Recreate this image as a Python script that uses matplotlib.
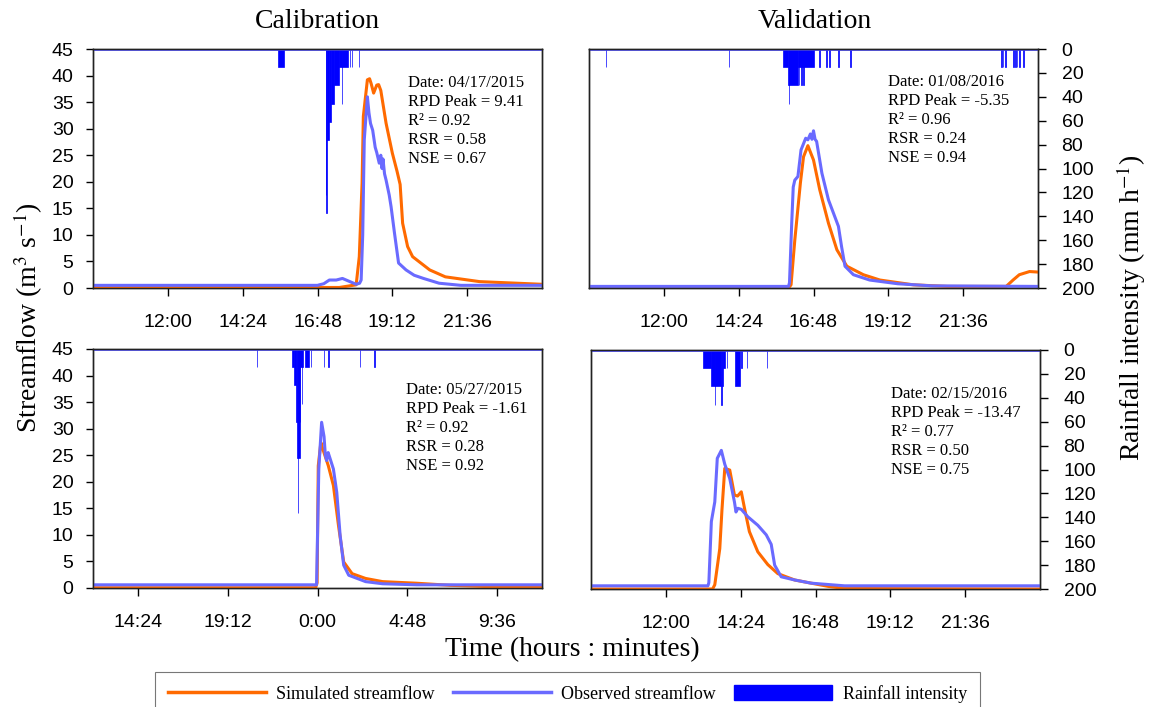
import matplotlib
matplotlib.use("Agg")
import matplotlib.pyplot as plt
from matplotlib.lines import Line2D
from matplotlib.patches import Patch

plt.rcParams['mathtext.fontset'] = 'stix'

SERIF = 'Liberation Serif'
SANS = 'Liberation Sans'

# ---------------- data (time in decimal hours) ----------------
# Calibration 04/17/2015
tl_obs_t = [9.6, 16.8, 16.86, 17.0, 17.18, 17.4, 17.6, 17.8, 18.04, 18.15, 18.2, 18.25, 18.3, 18.4, 18.45,
            18.5, 18.57, 18.65, 18.7, 18.78, 18.83, 18.87, 18.9, 18.95, 19.0, 19.1, 19.16, 19.27, 19.4,
            19.64, 19.9, 20.2, 20.7, 21.4, 24.0]
tl_obs_q = [0.5, 0.5, 0.6, 0.8, 1.5, 1.5, 1.8, 1.3, 0.7, 0.9, 1.5, 10.0, 27.9, 36.0, 33.0,
            31.0, 29.7, 26.5, 25.5, 23.5, 25.0, 22.5, 24.3, 21.5, 20.3, 17.5, 15.3, 10.3, 4.7,
            3.4, 2.4, 1.8, 0.9, 0.5, 0.5]
tl_sim_t = [9.6, 17.5, 18.04, 18.14, 18.23, 18.27, 18.4, 18.47, 18.52, 18.6, 18.7, 18.76, 18.83,
            19.0, 19.2, 19.35, 19.45, 19.53, 19.69, 19.85, 20.4, 20.9, 22.0, 24.0]
tl_sim_q = [0.05, 0.1, 0.6, 5.9, 19.8, 32.3, 39.2, 39.4, 38.5, 36.7, 38.2, 38.3, 37.2,
            31.0, 25.4, 22.0, 19.5, 12.2, 7.8, 5.9, 3.4, 2.1, 1.2, 0.7]
tl_rain_start = [15.52, 17.06, 17.08, 17.11, 17.16, 17.24, 17.34, 17.48, 17.58, 17.60, 17.84, 17.90, 18.12]
tl_rain_end = [15.74, 17.08, 17.11, 17.16, 17.24, 17.34, 17.48, 17.58, 17.60, 17.77, 17.857, 17.917, 18.137]
tl_rain_val = [15.24, 121.92, 137.16, 76.2, 60.96, 45.72, 30.48, 15.24, 45.72, 15.24, 15.24, 15.24, 15.24]

# Validation 01/08/2016
tr_obs_t = [9.6, 16.0, 16.03, 16.1, 16.15, 16.2, 16.3, 16.4, 16.55, 16.62, 16.7, 16.75, 16.8, 16.85,
            16.9, 17.07, 17.28, 17.44, 17.6, 17.7, 17.81, 18.08, 18.6, 19.5, 20.6, 24.0]
tr_obs_q = [0.3, 0.3, 1.0, 12.0, 19.0, 20.3, 21.0, 26.0, 28.2, 27.9, 29.0, 28.0, 29.6, 28.0,
            27.6, 21.6, 16.6, 14.1, 11.6, 7.8, 4.1, 2.5, 1.5, 0.8, 0.4, 0.3]
tr_sim_t = [9.6, 16.0, 16.08, 16.2, 16.38, 16.48, 16.62, 16.8, 17.0, 17.28, 17.55, 17.87, 18.4, 18.93,
            20.0, 21.1, 22.98, 23.2, 23.4, 23.73, 24.0]
tr_sim_q = [0.0, 0.0, 0.6, 9.0, 19.8, 24.7, 26.8, 24.1, 18.5, 12.2, 7.2, 4.1, 2.5, 1.5,
            0.6, 0.3, 0.3, 1.5, 2.5, 3.1, 3.0]
tr_rain_start = [10.13, 14.08, 15.82, 15.97, 16.00, 16.02, 16.30, 16.33, 16.40, 16.47, 16.98, 17.2, 17.3,
                 17.6, 17.97, 22.80, 22.87, 22.94, 23.19, 23.26, 23.32, 23.40, 23.53]
tr_rain_end = [10.147, 14.097, 15.97, 16.00, 16.02, 16.30, 16.80, 16.347, 16.417, 16.487, 16.997, 17.217,
               17.317, 17.617, 17.987, 22.83, 22.89, 22.96, 23.22, 23.28, 23.34, 23.417, 23.547]
tr_rain_val = [15.24, 15.24, 15.24, 30.48, 45.72, 30.48, 15.24, 30.48, 30.48, 30.48, 15.24, 15.24, 15.24,
               15.24, 15.24, 15.24, 15.24, 15.24, 15.24, 15.24, 15.24, 15.24, 15.24]

# Calibration 05/27/2015 (24 = 0:00 next day)
bl_obs_t = [12.0, 23.95, 24.07, 24.22, 24.35, 24.42, 24.49, 24.57, 24.67, 24.85, 25.03, 25.21, 25.4,
            25.67, 26.57, 27.48, 29.3, 36.0]
bl_obs_q = [0.6, 0.6, 22.4, 31.2, 28.5, 25.0, 24.0, 25.5, 24.4, 22.4, 18.0, 9.9, 4.3,
            2.4, 1.2, 0.8, 0.6, 0.6]
bl_sim_t = [12.0, 23.9, 23.98, 24.04, 24.18, 24.28, 24.58, 24.85, 25.12, 25.4, 25.85, 26.57, 27.48,
            29.3, 31.1, 32.9, 36.0]
bl_sim_q = [0.05, 0.05, 1.0, 23.0, 27.4, 26.2, 23.0, 19.3, 11.8, 4.9, 2.7, 1.8, 1.2,
            0.9, 0.5, 0.3, 0.3]
bl_rain_start = [20.74, 22.62, 22.77, 22.86, 22.91, 22.945, 22.96, 23.04, 23.09, 23.16, 23.18, 23.31,
                 23.64, 24.34, 24.58, 26.27, 27.04]
bl_rain_end = [20.757, 22.77, 22.86, 22.91, 22.945, 22.96, 23.04, 23.09, 23.16, 23.18, 23.22, 23.53,
               23.657, 24.357, 24.597, 26.287, 27.057]
bl_rain_val = [15.24, 15.24, 30.48, 60.96, 91.44, 137.16, 91.44, 60.96, 15.24, 45.72, 15.24, 15.24,
               15.24, 15.24, 15.24, 15.24, 15.24]

# Validation 02/15/2016
br_obs_t = [9.6, 13.35, 13.38, 13.46, 13.57, 13.65, 13.78, 13.89, 14.05, 14.2, 14.25, 14.31, 14.42,
            14.63, 14.95, 15.22, 15.38, 15.49, 15.7, 16.13, 16.66, 17.73, 24.0]
br_obs_q = [0.6, 0.6, 1.2, 12.7, 16.4, 24.6, 26.1, 23.5, 20.8, 16.4, 14.5, 15.2, 15.0,
            13.6, 12.0, 10.2, 8.4, 4.5, 2.3, 1.7, 1.1, 0.6, 0.6]
br_sim_t = [9.6, 13.5, 13.57, 13.73, 13.8, 13.89, 14.05, 14.2, 14.3, 14.42, 14.52, 14.68, 14.95,
            15.27, 15.59, 16.13, 16.66, 17.2, 17.73, 24.0]
br_sim_q = [0.0, 0.0, 0.8, 7.6, 14.9, 22.7, 22.4, 17.7, 17.5, 18.3, 15.3, 10.8, 7.0,
            4.6, 2.9, 1.7, 1.1, 0.5, 0.1, 0.0]
br_rain_start = [13.20, 13.44, 13.57, 13.59, 13.78, 13.80, 13.84, 13.96, 14.23, 14.42, 14.60, 15.23]
br_rain_end = [13.44, 13.57, 13.59, 13.78, 13.80, 13.84, 13.89, 13.977, 14.37, 14.437, 14.617, 15.247]
br_rain_val = [15.24, 30.48, 45.72, 30.48, 45.72, 30.48, 15.24, 15.24, 30.48, 15.24, 15.24, 15.24]

top_ticks = [12.0, 14.4, 16.8, 19.2, 21.6]
top_labels = ['12:00', '14:24', '16:48', '19:12', '21:36']
bl_ticks = [14.4, 19.2, 24.0, 28.8, 33.6]
bl_labels = ['14:24', '19:12', '0:00', '4:48', '9:36']

stats_tl = ['Date: 04/17/2015', 'RPD Peak = 9.41', 'R² = 0.92', 'RSR = 0.58', 'NSE = 0.67']
stats_tr = ['Date: 01/08/2016', 'RPD Peak = -5.35', 'R² = 0.96', 'RSR = 0.24', 'NSE = 0.94']
stats_bl = ['Date: 05/27/2015', 'RPD Peak = -1.61', 'R² = 0.92', 'RSR = 0.28', 'NSE = 0.92']
stats_br = ['Date: 02/15/2016', 'RPD Peak = -13.47', 'R² = 0.77', 'RSR = 0.50', 'NSE = 0.75']

# ---------------- styling ----------------
C_SIM = '#ff6a00'
C_OBS = '#6a6aff'
C_RAIN = '#0000ff'

fig = plt.figure(figsize=(11.54, 7.07), dpi=100)

W = 449 / 1154
H = 239 / 707
panels = [
    dict(pos=[93 / 1154, 1 - 288 / 707, W, H], obs=(tl_obs_t, tl_obs_q), sim=(tl_sim_t, tl_sim_q),
         rain=(tl_rain_start, tl_rain_end, tl_rain_val), xlim=(9.6, 24.0), ticks=(top_ticks, top_labels),
         stats=stats_tl, txt=(0.702, 0.893), left=True),
    dict(pos=[589 / 1154, 1 - 288 / 707, W, H], obs=(tr_obs_t, tr_obs_q), sim=(tr_sim_t, tr_sim_q),
         rain=(tr_rain_start, tr_rain_end, tr_rain_val), xlim=(9.6, 24.0), ticks=(top_ticks, top_labels),
         stats=stats_tr, txt=(0.667, 0.897), left=False),
    dict(pos=[93 / 1154, 1 - 588 / 707, W, H], obs=(bl_obs_t, bl_obs_q), sim=(bl_sim_t, bl_sim_q),
         rain=(bl_rain_start, bl_rain_end, bl_rain_val), xlim=(12.0, 36.0), ticks=(bl_ticks, bl_labels),
         stats=stats_bl, txt=(0.697, 0.864), left=True),
    dict(pos=[591 / 1154, 1 - 589 / 707, W, H], obs=(br_obs_t, br_obs_q), sim=(br_sim_t, br_sim_q),
         rain=(br_rain_start, br_rain_end, br_rain_val), xlim=(9.6, 24.0), ticks=(top_ticks, top_labels),
         stats=stats_br, txt=(0.669, 0.849), left=False),
]

for p in panels:
    ax = fig.add_axes(p['pos'])
    ax.plot(p['sim'][0], p['sim'][1], color=C_SIM, lw=2.2, zorder=3)
    ax.plot(p['obs'][0], p['obs'][1], color=C_OBS, lw=2.2, zorder=4)
    ax.set_xlim(*p['xlim'])
    ax.set_ylim(0, 45)
    ax.set_yticks(range(0, 46, 5))
    ax.set_xticks(p['ticks'][0])
    ax.set_xticklabels(p['ticks'][1], fontfamily=SANS, fontsize=14)
    ax.tick_params(axis='x', direction='out', length=6, width=1, pad=13)
    for s in ax.spines.values():
        s.set_linewidth(1.0)
        s.set_color('#222222')

    ax2 = ax.twinx()
    st, en, va = p['rain']
    widths = [e - s for s, e in zip(st, en)]
    ax2.bar(st, va, width=widths, align='edge', color=C_RAIN, edgecolor=C_RAIN, linewidth=0.5, zorder=2)
    ax2.axhline(1.2, color='#4a4aff', lw=1.2, zorder=2)
    ax2.set_ylim(200, 0)
    ax2.set_yticks(range(0, 201, 20))
    ax2.set_xlim(*p['xlim'])
    for s in ax2.spines.values():
        s.set_linewidth(1.0)
        s.set_color('#222222')

    if p['left']:
        ax.tick_params(axis='y', direction='out', length=5, width=1, pad=9, labelsize=14)
        for lab in ax.get_yticklabels():
            lab.set_fontfamily(SANS)
        ax2.tick_params(axis='y', right=False, labelright=False)
    else:
        ax.tick_params(axis='y', left=False, labelleft=False)
        ax2.tick_params(axis='y', direction='out', length=6, width=1, pad=11, labelsize=14)
        for lab in ax2.get_yticklabels():
            lab.set_fontfamily(SANS)

    ax2.text(p['txt'][0], p['txt'][1], '\n'.join(p['stats']), transform=ax.transAxes,
             ha='left', va='top', fontfamily=SERIF, fontsize=12, linespacing=1.25, zorder=6)

fig.text(317 / 1154, 1 - 21 / 707, 'Calibration', ha='center', va='center', fontfamily=SERIF, fontsize=20)
fig.text(815 / 1154, 1 - 21 / 707, 'Validation', ha='center', va='center', fontfamily=SERIF, fontsize=20)
fig.text(572 / 1154, 1 - 650 / 707, 'Time (hours : minutes)', ha='center', va='center',
         fontfamily=SERIF, fontsize=20)
fig.text(28 / 1154, 1 - 318 / 707, 'Streamflow (m$^{3}$ s$^{-1}$)', ha='center', va='center',
         rotation=90, fontfamily=SERIF, fontsize=20)
fig.text(1131 / 1154, 1 - 308 / 707, 'Rainfall intensity (mm h$^{-1}$)', ha='center', va='center',
         rotation=90, fontfamily=SERIF, fontsize=20)

handles = [Line2D([], [], color=C_SIM, lw=2.5), Line2D([], [], color=C_OBS, lw=2.5),
           Patch(facecolor=C_RAIN, edgecolor=C_RAIN)]
labels = ['Simulated streamflow', 'Observed streamflow', 'Rainfall intensity']
leg = fig.legend(handles, labels, loc='lower center', bbox_to_anchor=(567.5 / 1154, -0.012), ncol=3,
                 frameon=True, fancybox=False, edgecolor='#555555', handlelength=5.4, handleheight=0.9,
                 handletextpad=0.6, columnspacing=1.0, borderaxespad=0.0, borderpad=0.7,
                 prop={'family': SERIF, 'size': 13})
leg.get_frame().set_linewidth(0.8)

fig.savefig('out.png', dpi=100)
